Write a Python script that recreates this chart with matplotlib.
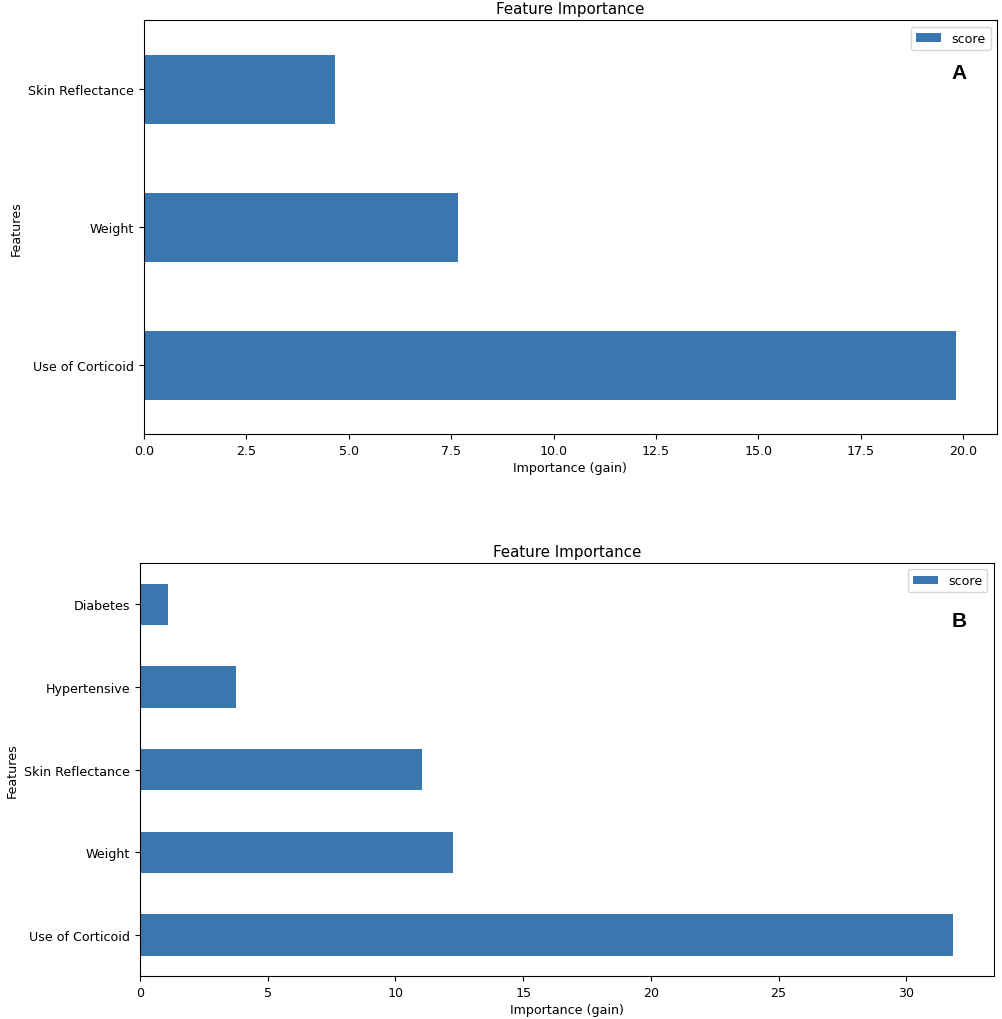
import matplotlib
matplotlib.use("Agg")
import matplotlib.pyplot as plt

# panel A
features_a = ["Use of Corticoid", "Weight", "Skin Reflectance"]
score_a = [19.83, 7.68, 4.68]

# panel B
features_b = ["Use of Corticoid", "Weight", "Skin Reflectance", "Hypertensive", "Diabetes"]
score_b = [31.83, 12.25, 11.05, 3.76, 1.09]

bar_color = "#3a76af"
W, H = 1002, 1020

plt.rcParams["font.family"] = "DejaVu Sans"
plt.rcParams["font.size"] = 9.1

fig = plt.figure(figsize=(W / 100, H / 100), dpi=100)


def px_axes(left, top, right, bottom):
    return fig.add_axes([left / W, (H - bottom) / H, (right - left) / W, (bottom - top) / H])


def draw(ax, names, vals, letter, lx, ly):
    pos = list(range(len(names)))
    ax.barh(pos, vals, height=0.5, color=bar_color, label="score")
    ax.set_yticks(pos)
    ax.set_yticklabels(names)
    ax.set_ylim(-0.5, len(names) - 0.5)
    ax.set_xlim(0, max(vals) * 1.05)
    ax.set_title("Feature Importance", fontsize=10.9, pad=5)
    ax.set_xlabel("Importance (gain)", labelpad=3)
    ax.set_ylabel("Features")
    ax.legend(loc="upper right")
    ax.text(lx, ly, letter, transform=ax.transAxes, fontsize=15, fontweight="bold",
            family="Liberation Sans", ha="center", va="center")


ax1 = px_axes(143.7, 21.3, 997, 435)
draw(ax1, features_a, score_a, "A", 0.9555, 0.875)

ax2 = px_axes(140, 564, 993.7, 977.3)
draw(ax2, features_b, score_b, "B", 0.959, 0.86)

fig.savefig("out.png", dpi=100)
